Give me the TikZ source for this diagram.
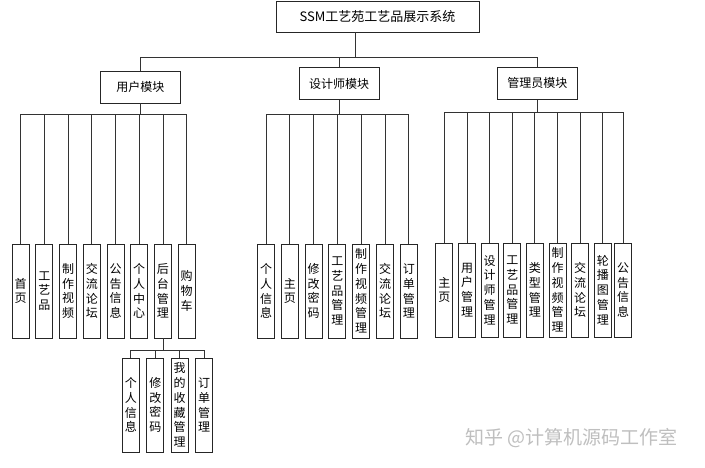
\documentclass[tikz,border=0pt]{standalone}
\usepackage{fontspec}
\newfontfamily\cjk{Noto Sans CJK SC}
\tikzset{
  box/.style={draw=black!85, line width=0.9pt, fill=white, inner sep=0pt, align=center},
  topbox/.style={box, minimum width=203pt, minimum height=31pt, font=\cjk\fontsize{13}{15}\selectfont},
  modbox/.style={box, minimum width=80pt, minimum height=31.5pt, font=\cjk\fontsize{12}{14}\selectfont},
  leaf/.style={box, minimum width=17pt, minimum height=94pt, font=\cjk\fontsize{12}{14.8}\selectfont},
  conn/.style={draw=black!80, line width=0.8pt},
  wm/.style={text=black!25, font=\cjk\fontsize{19}{21}\selectfont, inner sep=0pt}
}
\begin{document}
\begin{tikzpicture}[x=1pt,y=-1pt]
\useasboundingbox (0,0) rectangle (705,467);
\fill[white] (0,0) rectangle (705,467);
% top and modules
\node[topbox] (top) at (377.5,16.5) {SSM工艺苑工艺品展示系统};
\node[modbox] (user) at (140.3,87.2) {用户模块};
\node[modbox] (des) at (339,83.5) {设计师模块};
\node[modbox] (adm) at (537.3,83.3) {管理员模块};
\coordinate (tbus) at (355,57);
\draw[conn] (top.south -| tbus) -- (tbus);
\draw[conn] (tbus) -| (user.north);
\draw[conn] (tbus) -| (des.north);
\draw[conn] (tbus) -| (adm.north);
% bus levels
\coordinate (lu) at (0,114);
\coordinate (la) at (0,112.3);
\coordinate (ls) at (0,350);
\coordinate (ubus) at (user.south |- lu);
\coordinate (dbus) at (des.south |- lu);
\coordinate (abus) at (adm.south |- la);
\draw[conn] (user.south) -- (ubus);
\draw[conn] (des.south) -- (dbus);
\draw[conn] (adm.south) -- (abus);
% user leaves
\foreach \i/\x/\t in {1/20.7/{首\\页}, 2/44.4/{工\\艺\\品}, 3/68.1/{制\\作\\视\\频}, 4/91.8/{交\\流\\论\\坛}, 5/115.5/{公\\告\\信\\息}, 6/139.2/{个\\人\\中\\心}, 7/162.9/{后\\台\\管\\理}, 8/186.6/{购\\物\\车}} {
  \node[leaf] (u\i) at (\x,291) {\t};
  \draw[conn] (ubus) -| (u\i.north);
}
% sub leaves of 后台管理
\coordinate (sbus) at (u7.south |- ls);
\draw[conn] (u7.south) -- (sbus);
\foreach \i/\x/\t in {1/130.8/{个\\人\\信\\息}, 2/155.3/{修\\改\\密\\码}, 3/179.7/{我\\的\\收\\藏\\管\\理}, 4/204.2/{订\\单\\管\\理}} {
  \node[leaf] (s\i) at (\x,405) {\t};
  \draw[conn] (sbus) -| (s\i.north);
}
% designer leaves
\foreach \i/\x/\t in {1/266/{个\\人\\信\\息}, 2/289.8/{主\\页}, 3/313.6/{修\\改\\密\\码}, 4/337.4/{工\\艺\\品\\管\\理}, 5/361.2/{制\\作\\视\\频\\管\\理}, 6/385/{交\\流\\论\\坛}, 7/408.8/{订\\单\\管\\理}} {
  \node[leaf] (d\i) at (\x,291) {\t};
  \draw[conn] (dbus) -| (d\i.north);
}
% admin leaves
\foreach \i/\x/\t in {1/444.3/{主\\页}, 2/467/{用\\户\\管\\理}, 3/489.7/{设\\计\\师\\管\\理}, 4/512.3/{工\\艺\\品\\管\\理}, 5/534.8/{类\\型\\管\\理}, 6/557.5/{制\\作\\视\\频\\管\\理}, 7/580.2/{交\\流\\论\\坛}, 8/602.8/{轮\\播\\图\\管\\理}, 9/623.2/{公\\告\\信\\息}} {
  \node[leaf] (a\i) at (\x,290) {\t};
  \draw[conn] (abus) -| (a\i.north);
}
% watermark
\node[wm] (wmark) at (571.5,438) {知乎 @计算机源码工作室};
\end{tikzpicture}
\end{document}
